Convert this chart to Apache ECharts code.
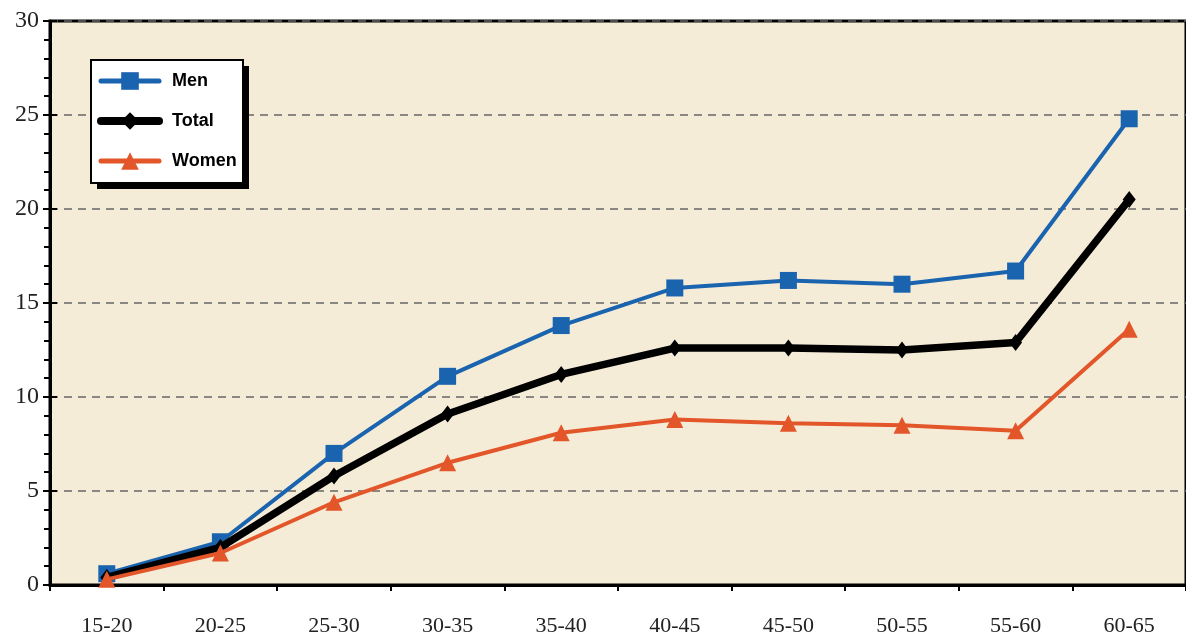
<!DOCTYPE html>
<html><head><meta charset="utf-8">
<script src="https://cdn.jsdelivr.net/npm/echarts@6/dist/echarts.min.js"></script>
<style>html,body{margin:0;padding:0;background:#fff}#c{width:1186px;height:639px}</style>
</head><body><div id="c"></div>
<script>
const categories = ['15-20','20-25','25-30','30-35','35-40','40-45','45-50','50-55','55-60','60-65'];
const men   = [0.6, 2.3, 7.0, 11.1, 13.8, 15.8, 16.2, 16.0, 16.7, 24.8];
const total = [0.4, 2.0, 5.8, 9.1, 11.2, 12.6, 12.6, 12.5, 12.9, 20.5];
const women = [0.3, 1.7, 4.4, 6.5, 8.1, 8.8, 8.6, 8.5, 8.2, 13.6];

const BLUE = '#1a63ae', ORANGE = '#e2562a';
const chart = echarts.init(document.getElementById('c'));
chart.setOption({
  animation: false,
  grid: {left: 50, top: 21, bottom: 54, right: -4, show: true, backgroundColor: '#F5ECD8', borderColor: '#000', borderWidth: 3},
  graphic: [
    {type: 'rect', z: 50, shape: {x: 97, y: 66, width: 152, height: 123}, style: {fill: '#000'}},
    {type: 'rect', z: 51, shape: {x: 91, y: 60, width: 152, height: 123}, style: {fill: '#fff', stroke: '#000', lineWidth: 2}}
  ],
  legend: {
    z: 60,
    orient: 'vertical', left: 91, top: 60,
    padding: [12, 10, 9, 6],
    itemWidth: 58, itemHeight: 22, itemGap: 22,
    textStyle: {fontFamily: 'Liberation Sans, Arial', fontWeight: 'bold', fontSize: 18, color: '#000', padding: [0, 0, 0, 8]},
    data: [
      {name: 'Men', lineStyle: {width: 5, cap: 'round'}},
      {name: 'Total', lineStyle: {width: 8, cap: 'round'}},
      {name: 'Women', lineStyle: {width: 5, cap: 'round'}}
    ]
  },
  xAxis: {
    type: 'category', data: categories, boundaryGap: true,
    axisLine: {lineStyle: {color: '#000', width: 3}},
    axisTick: {show: true, length: 6, lineStyle: {color: '#000', width: 2}},
    axisLabel: {fontFamily: 'Liberation Serif, Times New Roman', fontSize: 22, color: '#222', margin: 30},
    splitLine: {show: false}
  },
  yAxis: [{
    type: 'value', min: 0, max: 30, interval: 5,
    axisLine: {show: true, lineStyle: {color: '#000', width: 3}},
    axisTick: {show: true, length: 7, lineStyle: {color: '#000', width: 2}},
    minorTick: {show: true, splitNumber: 5, length: 6, lineStyle: {color: '#000', width: 2}},
    axisLabel: {fontFamily: 'Liberation Serif, Times New Roman', fontSize: 24, color: '#222', margin: 11},
    splitLine: {show: true, lineStyle: {color: '#666', type: [8, 6], width: 1.5}}
  }, {
    type: 'value', min: 0, max: 30, interval: 5, position: 'left',
    axisLine: {show: false},
    axisTick: {show: true, inside: true, length: 7, lineStyle: {color: '#000', width: 2}},
    axisLabel: {show: false},
    splitLine: {show: false}
  }],
  series: [
    {name: 'Men', type: 'line', data: men, symbol: 'rect', symbolSize: 17,
     itemStyle: {color: BLUE}, lineStyle: {color: BLUE, width: 4}, z: 3},
    {name: 'Total', type: 'line', data: total, symbol: 'diamond', symbolSize: [13, 17],
     itemStyle: {color: '#000'}, lineStyle: {color: '#000', width: 7.5}, z: 4},
    {name: 'Women', type: 'line', data: women, symbol: 'triangle', symbolSize: 17,
     itemStyle: {color: ORANGE}, lineStyle: {color: ORANGE, width: 4}, z: 5}
  ]
});
</script></body></html>
